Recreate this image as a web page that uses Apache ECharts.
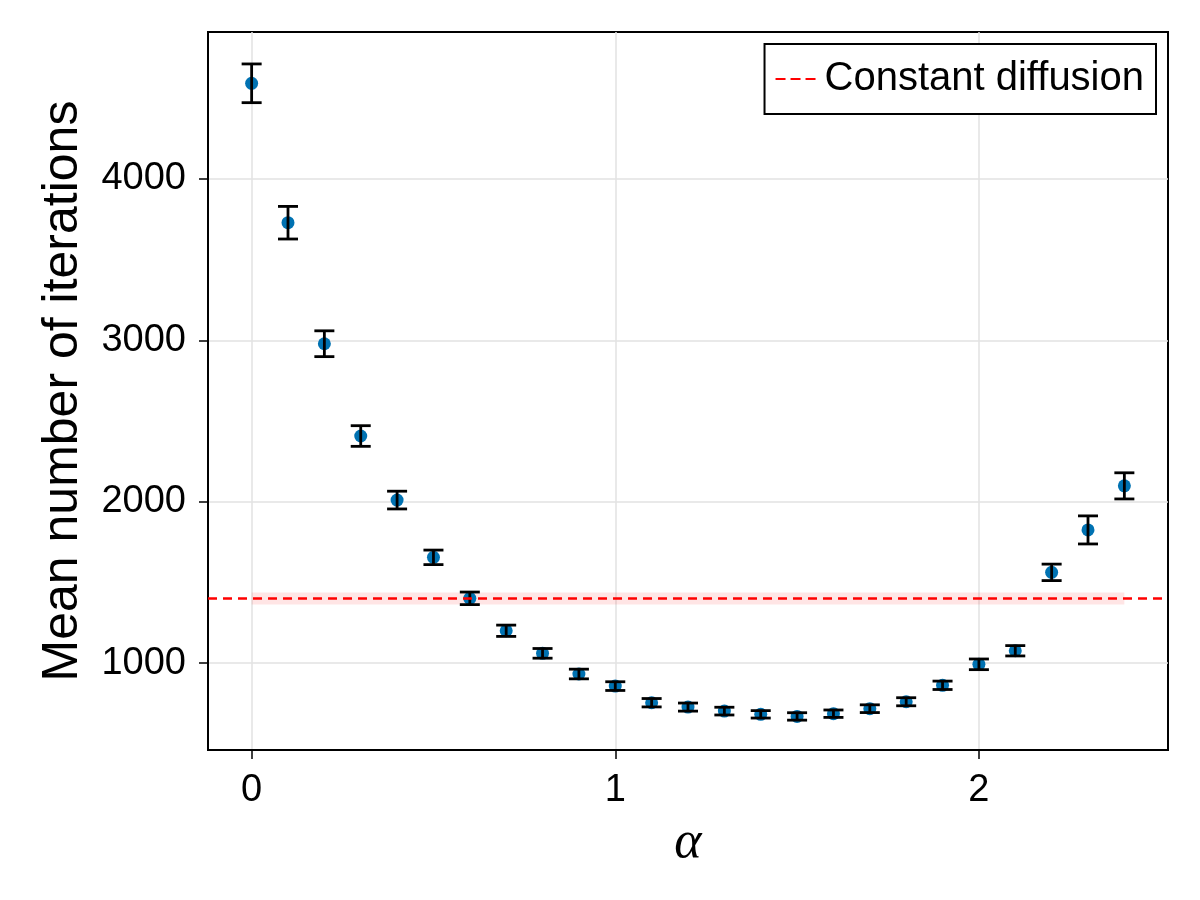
<!DOCTYPE html>
<html>
<head>
<meta charset="utf-8">
<script src="https://cdn.jsdelivr.net/npm/echarts@6/dist/echarts.min.js"></script>
<style>html,body{margin:0;padding:0;background:#fff}#chart{width:1200px;height:900px}</style>
</head>
<body>
<div id="chart"></div>
<script>
// ---- data ----
const alphas = [0, 0.1, 0.2, 0.3, 0.4, 0.5, 0.6, 0.7, 0.8, 0.9, 1.0, 1.1, 1.2, 1.3, 1.4, 1.5, 1.6, 1.7, 1.8, 1.9, 2.0, 2.1, 2.2, 2.3, 2.4];
const meanIterations = [4593, 3729, 2979, 2407, 2010, 1655, 1401, 1200, 1060, 932, 857, 754, 727, 702, 682, 669, 686, 717, 760, 862, 992, 1076, 1562, 1825, 2098];
const errors = [120, 101, 80, 64, 55, 45, 39, 35, 30, 30, 27, 26, 25, 24, 23, 23, 23, 24, 25, 26, 33, 32, 51, 87, 81];
const constantDiffusion = 1400;
const constantBandLow = 1363;
const constantBandHigh = 1437;
const bandAlphaRange = [0, 2.4];
const xTicks = [0, 1, 2];
const yTicks = [1000, 2000, 3000, 4000];
const xLimits = [-0.12, 2.52];
const yLimits = [461, 4911];

const FONT = 'Liberation Sans';
const chart = echarts.init(document.getElementById('chart'));

const pointData = alphas.map((a, i) => [a, meanIterations[i]]);
const errData = alphas.map((a, i) => [a, meanIterations[i], errors[i]]);

chart.setOption({
  animation: false,
  backgroundColor: '#fff',
  grid: { left: 208, top: 32, width: 960, height: 718, show: true, borderColor: '#000', borderWidth: 2, backgroundColor: 'transparent' },
  legend: {
    right: 44, top: 44,
    padding: [15, 12, 15, 11],
    borderColor: '#000', borderWidth: 2,
    backgroundColor: '#fff',
    itemWidth: 40, itemHeight: 2.5,
    data: [{ name: 'Constant diffusion', icon: 'path://M0,0h10v2h-10zM15,0h10v2h-10zM30,0h10v2h-10z', itemStyle: { color: '#ff0000' } }],
    textStyle: { fontFamily: FONT, fontSize: 40, color: '#000', padding: [0, 0, 0, 4] }
  },
  xAxis: {
    type: 'value', min: xLimits[0], max: xLimits[1],
    name: 'α', nameLocation: 'middle', nameGap: 67,
    nameTextStyle: { fontFamily: 'Liberation Serif', fontStyle: 'italic', fontSize: 52, color: '#000' },
    axisLine: { show: true, onZero: false, lineStyle: { color: '#000', width: 2 } },
    axisTick: { show: true, customValues: xTicks, length: 9, lineStyle: { color: '#000', width: 1.5 } },
    axisLabel: { customValues: xTicks, fontFamily: FONT, fontSize: 38, color: '#000', margin: 22, formatter: v => String(v) },
    splitLine: { show: true, lineStyle: { color: '#e2e2e2', width: 1.5 } }
  },
  yAxis: {
    type: 'value', min: yLimits[0], max: yLimits[1],
    name: 'Mean number of iterations', nameLocation: 'middle', nameGap: 120,
    nameTextStyle: { fontFamily: FONT, fontSize: 50, color: '#000' },
    axisLine: { show: true, onZero: false, lineStyle: { color: '#000', width: 2 } },
    axisTick: { show: true, customValues: yTicks, length: 9, lineStyle: { color: '#000', width: 1.5 } },
    axisLabel: { customValues: yTicks, fontFamily: FONT, fontSize: 38, color: '#000', margin: 22, formatter: v => String(v) },
    splitLine: { show: true, lineStyle: { color: '#e2e2e2', width: 1.5 } }
  },
  series: [
    {
      name: 'Constant diffusion',
      type: 'line',
      data: [],
      symbol: 'none',
      z: 2,
      lineStyle: { color: '#ff0000', width: 2.6, type: [9, 6] },
      itemStyle: { color: '#ff0000' },
      markLine: {
        silent: true, symbol: ['none', 'none'],
        label: { show: false },
        lineStyle: { color: '#ff0000', width: 2.6, type: [9, 6] },
        data: [{ yAxis: constantDiffusion }]
      },
      markArea: {
        silent: true,
        itemStyle: { color: 'rgba(255,0,0,0.1)' },
        data: [[{ coord: [bandAlphaRange[0], constantBandLow] }, { coord: [bandAlphaRange[1], constantBandHigh] }]]
      }
    },
    {
      name: 'points',
      type: 'scatter',
      data: pointData,
      symbol: 'circle',
      symbolSize: 13,
      z: 3,
      itemStyle: { color: '#0072B2', opacity: 1 }
    },
    {
      name: 'errorbars',
      type: 'custom',
      data: errData,
      z: 4,
      renderItem: function (params, api) {
        const x = api.value(0), y = api.value(1), e = api.value(2);
        const lo = api.coord([x, y - e]);
        const hi = api.coord([x, y + e]);
        const hw = 10;
        const style = { stroke: '#000', lineWidth: 2.8 };
        return {
          type: 'group',
          children: [
            { type: 'line', shape: { x1: lo[0], y1: lo[1], x2: hi[0], y2: hi[1] }, style: style },
            { type: 'line', shape: { x1: lo[0] - hw, y1: lo[1], x2: lo[0] + hw, y2: lo[1] }, style: style },
            { type: 'line', shape: { x1: hi[0] - hw, y1: hi[1], x2: hi[0] + hw, y2: hi[1] }, style: style }
          ]
        };
      }
    }
  ]
});
</script>
</body>
</html>
